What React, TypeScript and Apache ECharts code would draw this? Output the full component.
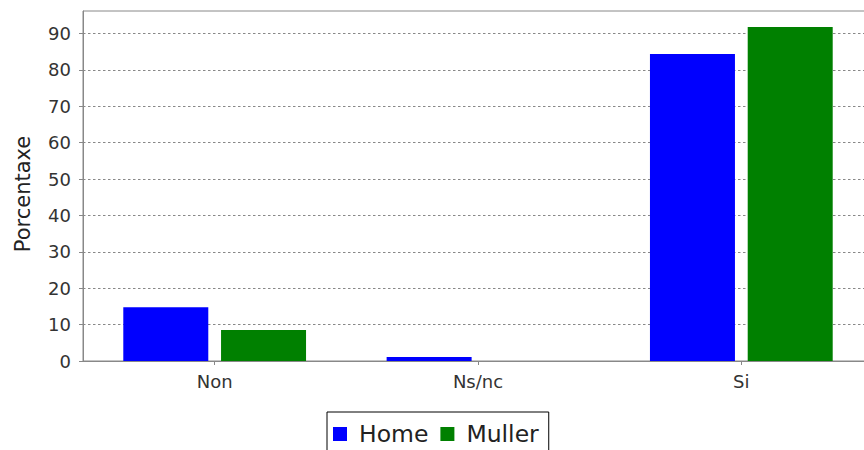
import React, { useEffect, useRef } from "react";
import * as echarts from "echarts";

const categories = ["Non", "Ns/nc", "Si"];
const homeValues = [14.8, 1.1, 84.4];
const mullerValues = [8.5, 0, 91.8];
const yTicks = [0, 10, 20, 30, 40, 50, 60, 70, 80, 90];
const yAxisTitle = "Porcentaxe";
const seriesNames = ["Home", "Muller"];

export default function App() {
  const ref = useRef<HTMLDivElement>(null);
  useEffect(() => {
    if (!ref.current) return;
    const chart = echarts.init(ref.current, null, { renderer: "svg" });
    const font = "DejaVu Sans";
    chart.setOption({
      animation: false,
      backgroundColor: "#ffffff",
      grid: {
        left: 83,
        top: 11,
        bottom: 89,
        width: 790,
        show: true,
        borderColor: "#888888",
        borderWidth: 1,
        containLabel: false,
        outerBoundsMode: "none",
      },
      legend: {
        data: seriesNames,
        left: 327,
        top: 412,
        orient: "horizontal",
        icon: "rect",
        itemWidth: 14,
        itemHeight: 14,
        itemGap: 12,
        padding: [10, 10, 30, 6],
        borderColor: "#000000",
        borderWidth: 1,
        textStyle: {
          fontFamily: font,
          fontSize: 23.5,
          color: "#222222",
          padding: [0, 0, 0, 7],
        },
      },
      xAxis: {
        type: "category",
        data: categories,
        boundaryGap: true,
        axisLine: { show: true, lineStyle: { color: "#888888", width: 1 } },
        axisTick: { show: true, alignWithLabel: true, length: 4, lineStyle: { color: "#888888" } },
        axisLabel: { fontFamily: font, fontSize: 18, color: "#333333", margin: 11 },
        splitLine: { show: false },
      },
      yAxis: {
        type: "value",
        min: 0,
        max: 96.2,
        interval: 10,
        name: yAxisTitle,
        nameLocation: "middle",
        nameGap: 50,
        nameTextStyle: { fontFamily: font, fontSize: 21, color: "#222222", padding: [0, 16, 0, 0] },
        axisLine: { show: true, lineStyle: { color: "#888888", width: 1 } },
        axisTick: { show: true, length: 4, lineStyle: { color: "#888888" }, customValues: yTicks },
        axisLabel: {
          fontFamily: font,
          fontSize: 18,
          color: "#333333",
          margin: 12,
          customValues: yTicks,
        },
        splitLine: {
          show: true,
          lineStyle: { color: "#888888", type: [2.5, 2.5], width: 1 },
        },
      },
      series: [
        {
          name: seriesNames[0],
          type: "bar",
          data: homeValues,
          barWidth: 85,
          barGap: "15%",
          itemStyle: { color: "#0000ff" },
        },
        {
          name: seriesNames[1],
          type: "bar",
          data: mullerValues,
          barWidth: 85,
          itemStyle: { color: "#008000" },
        },
      ],
    });
    return () => chart.dispose();
  }, []);
  return (
    <div
      ref={ref}
      style={{ position: "fixed", left: 0, top: 0, width: 864, height: 450 }}
    />
  );
}
